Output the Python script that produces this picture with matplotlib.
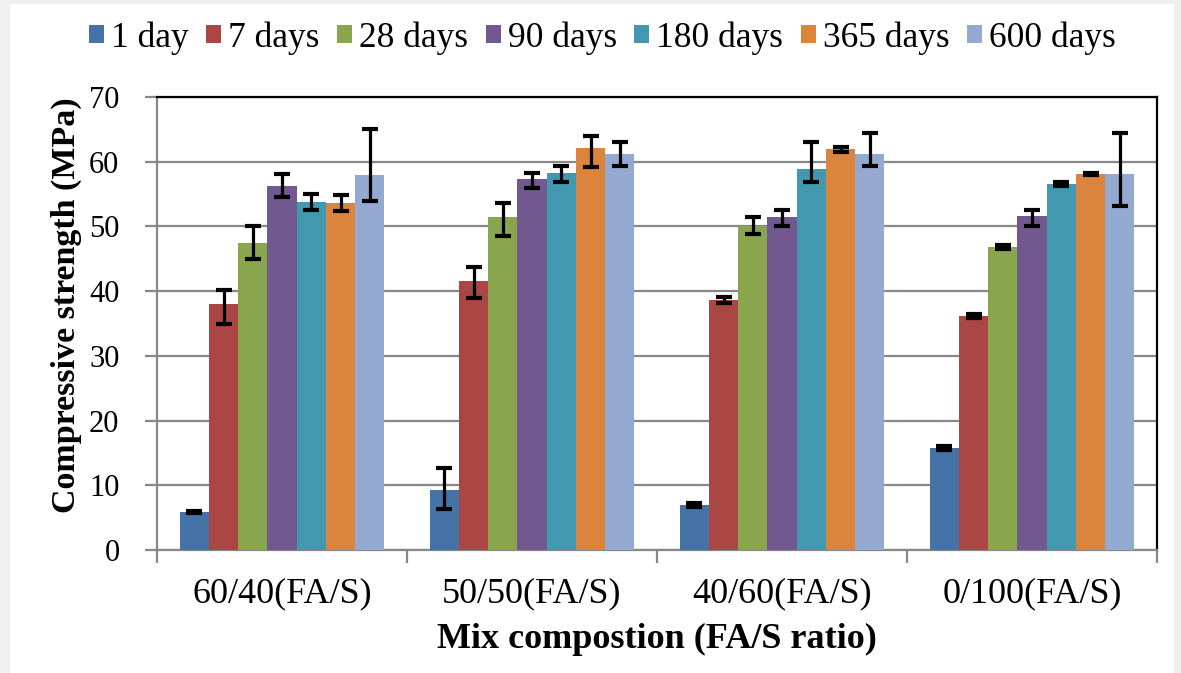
import matplotlib.pyplot as plt
from matplotlib.patches import Rectangle
import numpy as np

plt.rcParams['font.family'] = ['Liberation Serif', 'DejaVu Serif']

mixes = ["60/40(FA/S)", "50/50(FA/S)", "40/60(FA/S)", "0/100(FA/S)"]
ages = ["1 day", "7 days", "28 days", "90 days", "180 days", "365 days", "600 days"]
colors = ["#4572A7", "#AA4643", "#89A54E", "#71588F", "#4198AF", "#DB843D", "#93A9CF"]

# mean compressive strength (MPa) per age, one value per mix
day1 = [5.9, 9.3, 7.0, 15.7]
day7 = [38.0, 41.5, 38.6, 36.2]
day28 = [47.5, 51.5, 50.1, 46.8]
day90 = [56.3, 57.3, 51.5, 51.6]
day180 = [53.8, 58.3, 58.9, 56.6]
day365 = [53.6, 62.1, 61.9, 58.1]
day600 = [57.9, 61.2, 61.2, 58.1]

# error bar extents below / above the mean
err_lo = [
    [0.15, 2.9, 0.3, 0.3],
    [3.0, 2.6, 0.5, 0.3],
    [2.5, 3.0, 1.2, 0.3],
    [1.8, 1.3, 1.4, 1.5],
    [1.2, 1.4, 2.1, 0.3],
    [1.2, 2.9, 0.4, 0.2],
    [4.0, 1.9, 1.9, 5.0],
]
err_hi = [
    [0.15, 3.3, 0.3, 0.3],
    [2.1, 2.2, 0.5, 0.3],
    [2.5, 2.1, 1.3, 0.3],
    [1.8, 0.9, 1.0, 0.9],
    [1.2, 1.0, 4.2, 0.3],
    [1.3, 1.9, 0.4, 0.2],
    [7.2, 1.9, 3.3, 6.4],
]

series = [day1, day7, day28, day90, day180, day365, day600]

W, H = 1181, 673
fig = plt.figure(figsize=(W / 100, H / 100), dpi=100)
fig.patch.set_facecolor("#f0f0f0")
fig.patches.append(Rectangle((10 / W, 0), 1164 / W, (H - 4) / H,
                             transform=fig.transFigure, facecolor="white",
                             edgecolor="none", zorder=-10))

ax = fig.add_axes([157 / W, (H - 550) / H, 1000 / W, 453 / H])
ax.set_facecolor("white")

x = np.arange(len(mixes))
bw = 0.117
for i, (vals, c, lab) in enumerate(zip(series, colors, ages)):
    pos = x + (i - 3) * bw
    ax.bar(pos, vals, width=bw, color=c, label=lab, zorder=3)
    ax.errorbar(pos, vals, yerr=[err_lo[i], err_hi[i]], fmt="none",
                ecolor="black", elinewidth=2.3, capsize=6, capthick=3.0,
                zorder=4)

ax.set_ylim(0, 70)
ax.set_yticks(range(0, 71, 10))
ax.set_xlim(-0.5, 3.5)
ax.yaxis.grid(True, color="#888888", linewidth=1.6, zorder=1)
ax.set_axisbelow(True)

# category boundaries carry the tick marks, labels sit at the centres
ax.set_xticks(np.arange(-0.5, 4, 1))
ax.set_xticklabels([])
ax.set_xticks(x, minor=True)
ax.set_xticklabels(mixes, minor=True, fontsize=26)
ax.tick_params(axis="x", which="major", length=9, width=1.6, color="#888888")
ax.tick_params(axis="x", which="minor", length=0, pad=20)
ax.tick_params(axis="y", length=9, width=1.6, color="#888888", labelsize=22, pad=18)

for side in ["left", "bottom"]:
    ax.spines[side].set_color("#888888")
    ax.spines[side].set_linewidth(1.6)
for side in ["top", "right"]:
    ax.spines[side].set_color("black")
    ax.spines[side].set_linewidth(1.6)

ax.set_xlabel("Mix compostion (FA/S ratio)", fontsize=26, fontweight="bold", labelpad=9)
ax.set_ylabel("Compressive strength (MPa)", fontsize=24.5, fontweight="bold")
ax.yaxis.set_label_coords(-0.075, 0.541)

fig.legend(loc="center", bbox_to_anchor=(0.51, 1 - 38 / H), ncol=7, frameon=False,
           fontsize=25.5, handlelength=0.42, handleheight=0.42, handletextpad=0.2,
           columnspacing=0.5)

fig.savefig("out.png", dpi=100, facecolor=fig.get_facecolor())
